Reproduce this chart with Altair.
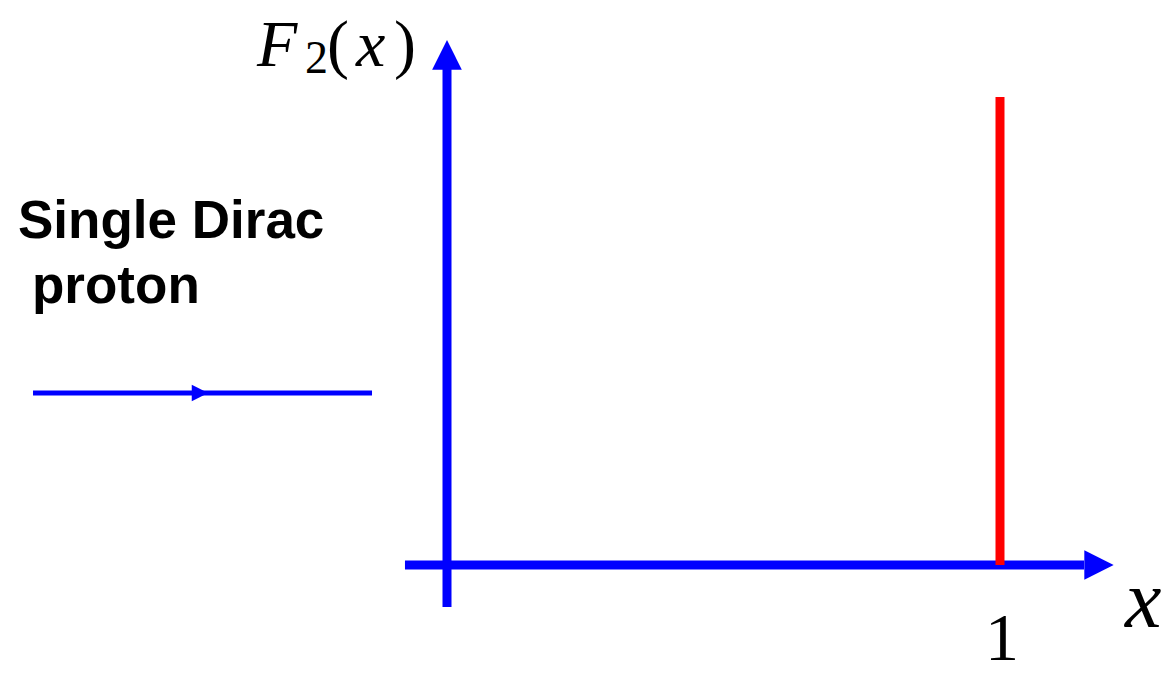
import altair as alt
import pandas as pd

# ---- diagram data (in x / F2 units) ----
delta_x = [1.0]            # single Dirac proton -> delta function at x = 1
delta_top = [1.0]
xaxis_from = [-0.076]
xaxis_to = [1.152]
yaxis_from = [-0.090]
yaxis_to = [1.060]
xarrow_at = [1.179]
yarrow_at = [1.090]
proton_y = [0.3675]
proton_from = [-0.7486]
proton_to = [-0.1356]
proton_arrow_at = [-0.4467]

label_left = ["Single Dirac", "proton"]
tick_label = ["1"]

BLUE = "#0000ff"
RED = "#ff0000"
SERIF = "Liberation Serif"
SANS = "Liberation Sans"

TOP = 40
W, H = 1160, 628
xs = alt.Scale(domain=[-0.79385, 1.30380], range=[0, W], nice=False, zero=False)
ys = alt.Scale(domain=[-0.23718, 1.10470], nice=False, zero=False)

X = lambda f: alt.X(f, type="quantitative", scale=xs, axis=None)
Y = lambda f: alt.Y(f, type="quantitative", scale=ys, axis=None)

axes_df = pd.DataFrame({
    "x": [0.0, xaxis_from[0]], "x2": [0.0, xaxis_to[0]],
    "y": [yaxis_from[0], 0.0], "y2": [yaxis_to[0], 0.0],
})
axes = alt.Chart(axes_df).mark_rule(color=BLUE, strokeWidth=9, strokeCap="butt").encode(
    x=X("x"), x2="x2", y=Y("y"), y2="y2")

delta_df = pd.DataFrame({"x": delta_x, "y": [0.0], "y2": delta_top})
delta = alt.Chart(delta_df).mark_rule(color=RED, strokeWidth=9, strokeCap="butt").encode(
    x=X("x"), y=Y("y"), y2="y2")

up_df = pd.DataFrame({"x": [0.0], "y": yarrow_at})
up_arrow = alt.Chart(up_df).mark_point(
    shape="M0,-1L1,1L-1,1Z", size=880, filled=True, color=BLUE, opacity=1, strokeWidth=0
).encode(x=X("x"), y=Y("y"))

right_df = pd.DataFrame({"x": xarrow_at, "y": [0.0]})
right_arrow = alt.Chart(right_df).mark_point(
    shape="M1,0L-1,-1L-1,1Z", size=860, filled=True, color=BLUE, opacity=1, strokeWidth=0
).encode(x=X("x"), y=Y("y"))

proton_df = pd.DataFrame({"x": proton_from, "x2": proton_to, "y": proton_y})
proton = alt.Chart(proton_df).mark_rule(color=BLUE, strokeWidth=5, strokeCap="butt").encode(
    x=X("x"), x2="x2", y=Y("y"))

parrow_df = pd.DataFrame({"x": proton_arrow_at, "y": proton_y})
proton_arrow = alt.Chart(parrow_df).mark_point(
    shape="M1,0L-1,-1L-1,1Z", size=270, filled=True, color=BLUE, opacity=1, strokeWidth=0
).encode(x=X("x"), y=Y("y"))

one = pd.DataFrame({"a": [0]})

def txt(t, px, py, size, font, style="normal", weight="normal", align="left"):
    # px, py: position in page pixels minus the 8px page margin
    return alt.Chart(one).mark_text(
        text=t, fontSize=size, font=font, fontStyle=style, fontWeight=weight,
        align=align, baseline="alphabetic", color="black"
    ).encode(x=alt.value(px), y=alt.value(py - TOP))

texts = [
    txt(label_left[0], 10, 230, 53, SANS, weight="bold"),
    txt(label_left[1], 24, 295, 53, SANS, weight="bold"),
    txt("F", 249, 58, 66, SERIF, style="italic"),
    txt("2", 297, 65, 46, SERIF),
    txt("(", 319, 58, 66, SERIF),
    txt("x", 348, 58, 66, SERIF, style="italic"),
    txt(")", 386, 58, 66, SERIF),
    txt("x", 1117, 619, 82, SERIF, style="italic"),
    txt(tick_label[0], 994, 652, 68, SERIF, align="center"),
]

chart = alt.layer(axes, delta, up_arrow, right_arrow, proton, proton_arrow, *texts).properties(
    width=W, height=H, autosize=alt.AutoSizeParams(type="none"),
    padding={"left": 0, "top": TOP, "right": 0, "bottom": 0},
    background="white"
).configure_view(stroke=None)

chart.save("out.html", embed_options={"renderer": "svg", "actions": False})
